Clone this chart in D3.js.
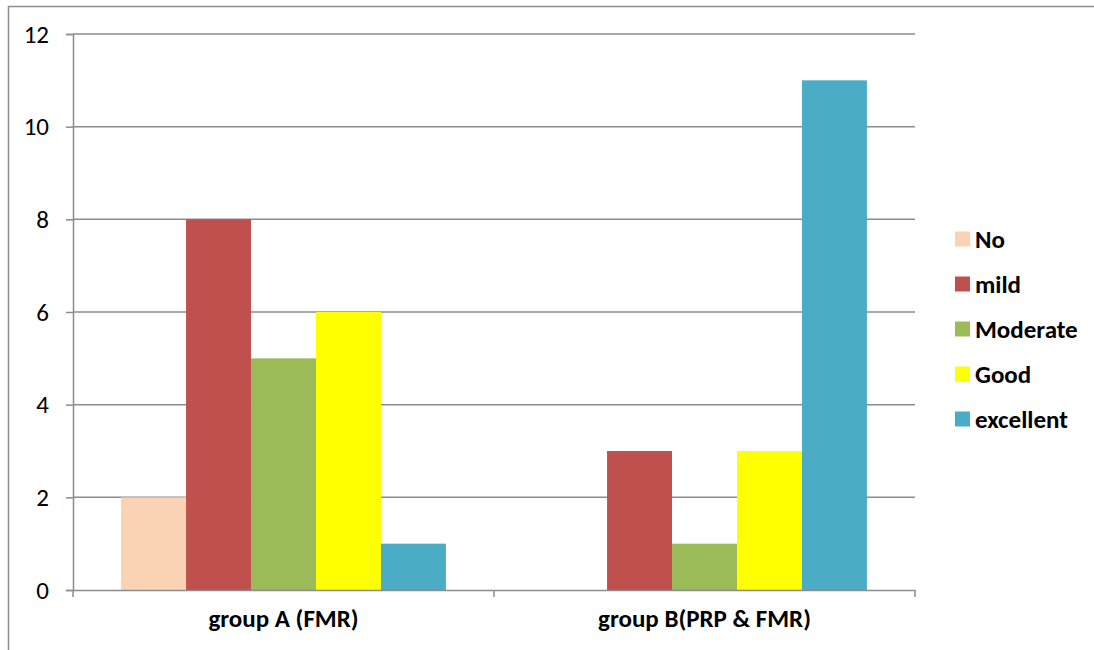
<!DOCTYPE html>
<html>
<head>
<meta charset="utf-8">
<script src="https://cdn.jsdelivr.net/npm/d3@7"></script>
<style>
  html, body { margin: 0; padding: 0; background: #fff; }
  svg { display: block; }
  text { font-family: Carlito, Lato, "Open Sans", sans-serif; fill: #000; }
</style>
</head>
<body>
<svg id="chart" width="1094" height="650"></svg>
<script>
// Groups on the x axis and the outcome series shown in each group
const groups = ["group A (FMR)", "group B(PRP & FMR)"];
const seriesNames = ["No", "mild", "Moderate", "Good", "excellent"];
const seriesColors = ["#FAD3B4", "#C0504D", "#9BBB59", "#FFFF00", "#4BACC6"];

// Counts per series, one value per group
const noValues = [2, 0];
const mildValues = [8, 3];
const moderateValues = [5, 1];
const goodValues = [6, 3];
const excellentValues = [1, 11];

const yTicks = [0, 2, 4, 6, 8, 10, 12];

const seriesValues = [noValues, mildValues, moderateValues, goodValues, excellentValues];

const FONT = "Carlito, Lato, 'Open Sans', sans-serif";

const svg = d3.select("#chart");

// Outer chart frame (left and top edges visible)
svg.append("path")
  .attr("d", "M8.5,650 V6.5 H1094")
  .attr("fill", "none")
  .attr("stroke", "#8c8c8c")
  .attr("stroke-width", 1.5);

const plot = { left: 73, right: 915, top: 34, bottom: 590 };

const x0 = d3.scaleBand()
  .domain(groups)
  .range([plot.left, plot.right])
  .paddingInner(0)
  .paddingOuter(0);

const x1 = d3.scaleBand()
  .domain(seriesNames)
  .range([0, x0.bandwidth()])
  .paddingInner(0)
  .paddingOuter(0.74);

const y = d3.scaleLinear()
  .domain([0, 12])
  .range([plot.bottom, plot.top]);

// Horizontal gridlines
svg.append("g")
  .selectAll("line")
  .data(yTicks.filter(d => d > 0))
  .join("line")
  .attr("x1", plot.left)
  .attr("x2", plot.right)
  .attr("y1", d => y(d))
  .attr("y2", d => y(d))
  .attr("stroke", "#8c8c8c")
  .attr("stroke-width", 1.5);

// Bars
const groupG = svg.append("g")
  .selectAll("g")
  .data(groups)
  .join("g")
  .attr("transform", d => `translate(${x0(d)},0)`);

groupG.selectAll("rect")
  .data((g, gi) => seriesNames.map((s, si) => ({ s, si, v: seriesValues[si][gi] })))
  .join("rect")
  .attr("x", d => x1(d.s))
  .attr("width", x1.bandwidth())
  .attr("y", d => y(d.v))
  .attr("height", d => plot.bottom - y(d.v))
  .attr("fill", d => seriesColors[d.si]);

// Y axis
const yAxis = d3.axisLeft(y)
  .tickValues(yTicks)
  .tickSize(7)
  .tickPadding(17)
  .tickFormat(d3.format("d"));

const yG = svg.append("g")
  .attr("transform", `translate(${plot.left},0)`)
  .call(yAxis);
yG.select(".domain").attr("stroke", "#8c8c8c").attr("stroke-width", 1.5);
yG.selectAll(".tick line").attr("stroke", "#8c8c8c").attr("stroke-width", 1.5);
yG.selectAll(".tick text")
  .style("font-size", "25px")
  .style("font-family", FONT)
  .attr("fill", "#000");

// X axis
const xAxis = d3.axisBottom(x0)
  .tickSize(0)
  .tickPadding(19)
  .tickSizeOuter(0);

const xG = svg.append("g")
  .attr("transform", `translate(0,${plot.bottom})`)
  .call(xAxis);
xG.select(".domain").attr("stroke", "#8c8c8c").attr("stroke-width", 1.5);
xG.selectAll(".tick text")
  .style("font-size", "25px")
  .style("font-weight", "bold")
  .style("font-family", FONT)
  .attr("fill", "#000");

// Category separator ticks on the x axis
svg.append("g")
  .selectAll("line")
  .data([plot.left, x0(groups[1]), plot.right])
  .join("line")
  .attr("x1", d => d)
  .attr("x2", d => d)
  .attr("y1", plot.bottom)
  .attr("y2", plot.bottom + 7)
  .attr("stroke", "#8c8c8c")
  .attr("stroke-width", 1.5);

// Legend
const legend = svg.append("g")
  .attr("transform", "translate(955,239)");

const item = legend.selectAll("g")
  .data(seriesNames)
  .join("g")
  .attr("transform", (d, i) => `translate(0,${i * 45})`);

item.append("rect")
  .attr("x", 0)
  .attr("y", -7.5)
  .attr("width", 15)
  .attr("height", 15)
  .attr("fill", (d, i) => seriesColors[i]);

item.append("text")
  .attr("x", 20)
  .attr("y", 0)
  .attr("dy", "0.35em")
  .style("font-size", "25px")
  .style("font-weight", "bold")
  .style("font-family", FONT)
  .text(d => d);
</script>
</body>
</html>
